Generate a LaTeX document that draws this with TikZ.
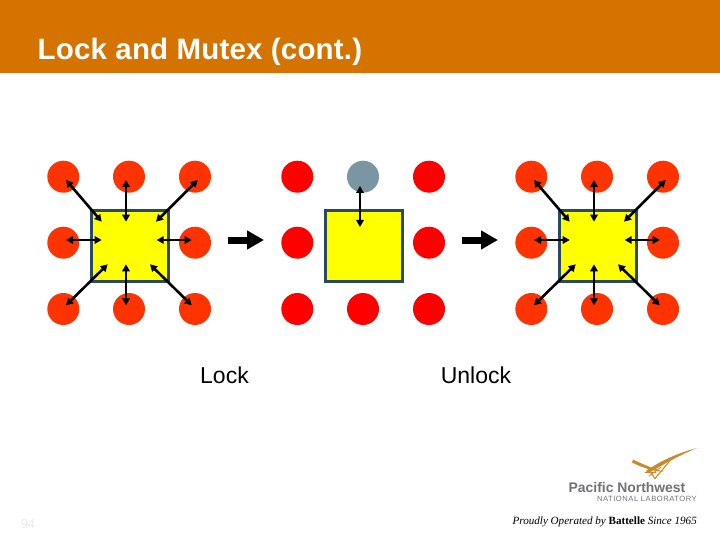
\documentclass[tikz,border=0pt]{standalone}
\usepackage{fontspec}
\setmainfont{Liberation Sans}
\newfontfamily\serifface{Liberation Serif}
\usetikzlibrary{arrows.meta}
\definecolor{headerorange}{HTML}{D47300}
\definecolor{dotorange}{HTML}{FF3300}
\definecolor{dotred}{HTML}{FF0000}
\definecolor{dotgray}{HTML}{7A96A3}
\definecolor{boxedge}{HTML}{2A4A63}
\definecolor{boxfill}{HTML}{FFFF00}
\definecolor{logogold}{HTML}{C98A2B}
\definecolor{logogray}{HTML}{6E7276}
\tikzset{
  dot/.style={circle,minimum size=32pt,inner sep=0pt,fill=#1},
  lockbox/.style={rectangle,draw=boxedge,line width=3pt,fill=boxfill,minimum width=77pt,minimum height=71pt,inner sep=0pt},
  dbl/.style={draw=black,line width=#1,{Triangle[length=7pt,width=7.5pt]}-{Triangle[length=7pt,width=7.5pt]}},
  blockarrow/.style={draw=black,line width=7pt,-{Triangle[length=17pt,width=18pt]}},
  label/.style={font=\fontsize{23}{23}\selectfont,text=black,inner sep=0pt,anchor=base},
  swoosh/.style={draw=logogold,line cap=round},
  swooshfill/.style={fill=logogold}
}
\newcommand{\dotgroup}[3]{%
  \begin{scope}[shift={(#1,0)},name prefix=#2-]
    \node[dot=#3] (tl) at (63.3,176.7) {};
    \node[dot=#3] (tr) at (195,176.7) {};
    \node[dot=#3] (ml) at (63.3,242.7) {};
    \node[dot=#3] (mr) at (195,242.7) {};
    \node[dot=#3] (bl) at (63.3,309) {};
    \node[dot=#3] (bm) at (129,309) {};
    \node[dot=#3] (br) at (195,309) {};
    \node[lockbox] (box) at (130,246) {};
  \end{scope}}
\newcommand{\spokes}[1]{%
  \begin{scope}[shift={(#1,0)}]
    \coordinate (a1) at (66,180); \coordinate (b1) at (101.7,221.7);
    \coordinate (a2) at (126,180); \coordinate (b2) at (126,221.7);
    \coordinate (a3) at (197.7,180); \coordinate (b3) at (156,221.7);
    \coordinate (a4) at (66,240); \coordinate (b4) at (101.7,240);
    \coordinate (a5) at (191.7,240); \coordinate (b5) at (156.7,240);
    \coordinate (a6) at (66,305.3); \coordinate (b6) at (107.7,264.3);
    \coordinate (a7) at (126,305.3); \coordinate (b7) at (126,264.3);
    \coordinate (a8) at (191.7,305.3); \coordinate (b8) at (150,264.3);
    \draw[dbl=2.6pt] (a1) -- (b1);
    \draw[dbl=2pt] (a2) -- (b2);
    \draw[dbl=2.6pt] (a3) -- (b3);
    \draw[dbl=1.5pt] (a4) -- (b4);
    \draw[dbl=1.5pt] (a5) -- (b5);
    \draw[dbl=2.6pt] (a6) -- (b6);
    \draw[dbl=2pt] (a7) -- (b7);
    \draw[dbl=2.6pt] (a8) -- (b8);
  \end{scope}}
\begin{document}
\begin{tikzpicture}[x=1pt,y=-1pt]
\useasboundingbox (0,0) rectangle (720,540);
\fill[headerorange] (0,0) rectangle (720,73);
\node[font=\bfseries\fontsize{29.5}{29.5}\selectfont\addfontfeature{LetterSpace=0.6},text=white,inner sep=0pt,anchor=base west] (title) at (37.5,60) {Lock and Mutex (cont.)};

% left group
\dotgroup{0}{g1}{dotorange}
\node[dot=dotorange] (g1-tm) at (129,176.7) {};
\spokes{0}

% middle group
\dotgroup{234}{g2}{dotred}
\node[dot=dotgray] (g2-tm) at (363,176.7) {};
\coordinate (g2-up) at (360,186);
\coordinate (g2-down) at (360,227);
\draw[dbl=2pt] (g2-up) -- (g2-down);

% right group
\dotgroup{468}{g3}{dotorange}
\node[dot=dotorange] (g3-tm) at (597,176.7) {};
\spokes{468}

% process arrows
\coordinate (p1a) at (228,240); \coordinate (p1b) at (264,240);
\coordinate (p2a) at (462,240); \coordinate (p2b) at (498,240);
\draw[blockarrow] (p1a) -- (p1b);
\draw[blockarrow] (p2a) -- (p2b);

\node[label] (lock) at (224.5,383) {Lock};
\node[label] (unlock) at (476,383) {Unlock};

\node[font=\fontsize{13}{13}\selectfont,text=black!8,inner sep=0pt,anchor=base] (pageno) at (28,528) {94};

% logo
\fill[swooshfill] (633,459.5) .. controls (642,464) and (652,468) .. (664,472) .. controls (652,471) and (641,467) .. (632,462.5) -- cycle;
\fill[swooshfill] (646,471) .. controls (660,461) and (678,453) .. (697,448) .. controls (680,455) and (664,464) .. (648,473.5) -- cycle;
\draw[swoosh,line width=1.1pt] (655,478.5) -- (646,466);
\draw[swoosh,line width=1.1pt] (655,478.5) -- (671,459.5);
\draw[swoosh,line width=.9pt] (649,476) -- (661,467);
\draw[swoosh,line width=.9pt] (645,472) -- (656,472);
\node[font=\bfseries\fontsize{13.9}{13.9}\selectfont,text=logogray,inner sep=0pt,anchor=base west] (pnw) at (568.5,492) {Pacific Northwest};
\node[font=\fontsize{7.6}{7.6}\selectfont\addfontfeature{LetterSpace=7},text=logogray,inner sep=0pt,anchor=base east] (natlab) at (697,501.5) {NATIONAL LABORATORY};
\node[font=\serifface\itshape\fontsize{11.1}{11.1}\selectfont,text=black,inner sep=0pt,anchor=base east] (proud) at (697,524) {Proudly Operated by {\upshape\bfseries Battelle} Since 1965};
\end{tikzpicture}
\end{document}
